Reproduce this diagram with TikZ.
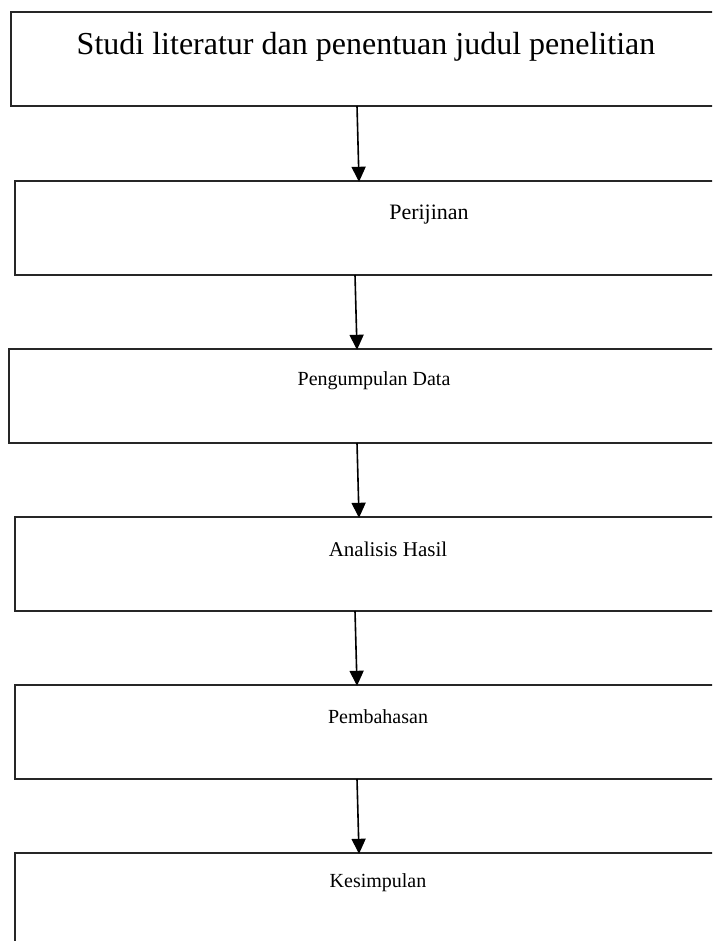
\documentclass[tikz,border=0pt]{standalone}
\usepackage{fontspec}
\setmainfont{Liberation Serif}
\usetikzlibrary{arrows.meta}
\begin{document}
\begin{tikzpicture}[x=1pt,y=-1pt,
  box/.style={draw=black!85, line width=1.6pt, rectangle, inner sep=0pt, outer sep=0pt, anchor=north west, minimum height=94pt},
  lbl/.style={inner sep=0pt, font=\fontsize{20}{24}\selectfont},
  arr/.style={line width=1.6pt, -{Triangle[width=14pt,length=15pt]}, shorten >=-0.8pt}]
\useasboundingbox (0,0) rectangle (712,941);
\clip (0,0) rectangle (712,941);
\fill[white] (0,0) rectangle (712,941);
\node[box, minimum width=739pt] (b1) at (11,12) {};
\node[box, minimum width=735pt] (b2) at (15,181) {};
\node[box, minimum width=741pt] (b3) at (9,349) {};
\node[box, minimum width=735pt] (b4) at (15,517) {};
\node[box, minimum width=735pt] (b5) at (15,685) {};
\node[box, minimum width=735pt, minimum height=120pt] (b6) at (15,853) {};
\node[lbl, font=\fontsize{32}{38}\selectfont] (t1) at (366,47) {Studi literatur dan penentuan judul penelitian};
\node[lbl, font=\fontsize{22}{26}\selectfont] (t2) at (429,215) {Perijinan};
\node[lbl] (t3) at (374,381) {Pengumpulan Data};
\node[lbl, font=\fontsize{21}{25}\selectfont] (t4) at (388,549) {Analisis Hasil};
\node[lbl] (t5) at (378,717) {Pembahasan};
\node[lbl] (t6) at (378,883) {Kesimpulan};
\draw[arr] ([xshift=-23.5pt]b1.south) -- ([xshift=-23.5pt]b2.north);
\draw[arr] ([xshift=-27.5pt]b2.south) -- ([xshift=-22.5pt]b3.north);
\draw[arr] ([xshift=-22.5pt]b3.south) -- ([xshift=-23.5pt]b4.north);
\draw[arr] ([xshift=-27.5pt]b4.south) -- ([xshift=-25.5pt]b5.north);
\draw[arr] ([xshift=-25.5pt]b5.south) -- ([xshift=-23.5pt]b6.north);
\end{tikzpicture}
\end{document}
